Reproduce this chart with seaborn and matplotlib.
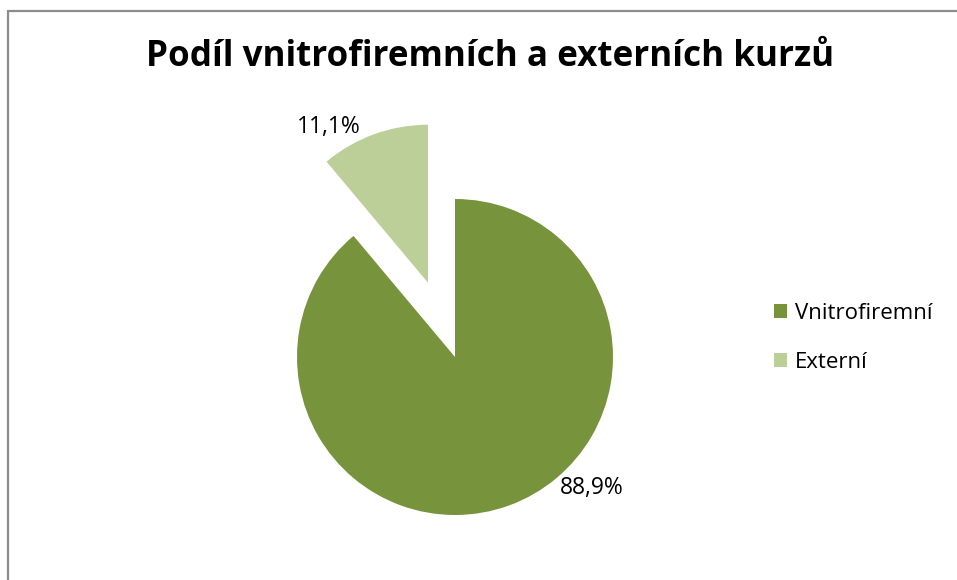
import matplotlib
matplotlib.use("Agg")
import matplotlib.pyplot as plt
import seaborn as sns
from matplotlib.lines import Line2D
from matplotlib.patches import Patch

sns.set_theme(style="white")
plt.rcParams['font.family'] = ['Open Sans', 'DejaVu Sans']
plt.rcParams['text.color'] = 'black'

# Data
categories = ["Vnitrofiremní", "Externí"]
values = [88.9, 11.1]
value_labels = ["88,9%", "11,1%"]
colors = ["#77933C", "#BCCF98"]
explode = [0.0, 0.5]

W, H = 957, 580
fig = plt.figure(figsize=(W / 100, H / 100), dpi=100)
fig.patch.set_facecolor("white")

# axes placed so that 1 data unit = 158 px, pie centre at (455, 357) px
R = 158.0
cx, cy = 455.0, 357.0
left_px, right_px = cx - 2 * R, cx + 2 * R
top_px, bot_px = 100.0, 560.0
ax = fig.add_axes([left_px / W, (H - bot_px) / H, (right_px - left_px) / W, (bot_px - top_px) / H])

wedges, _ = ax.pie(values, colors=colors, startangle=90, counterclock=False,
                   explode=explode, radius=1.0,
                   wedgeprops=dict(linewidth=0))
ax.set_xlim(-2, 2)
ax.set_ylim(-(bot_px - cy) / R, (cy - top_px) / R)
ax.set_aspect("equal")
ax.axis("off")

# data labels
ax.text(0.865, -0.83, value_labels[0], ha="center", va="center", fontsize=16.5, color="black")
ax.text(-0.80, 1.455, value_labels[1], ha="center", va="center", fontsize=16.5, color="black")

# title
fig.text(490 / W, 1 - 57 / H, "Podíl vnitrofiremních a externích kurzů",
         ha="center", va="center", fontsize=25.2, fontweight="bold", color="black")

# legend
handles = [Patch(facecolor=c, edgecolor="none") for c in colors]
leg = fig.legend(handles, categories, loc="center left",
                 bbox_to_anchor=(763 / W, 1 - 338 / H), frameon=False,
                 fontsize=16, handlelength=0.6, handleheight=0.6,
                 handletextpad=0.35, labelspacing=1.25, borderpad=0,
                 labelcolor="black")

# outer border (left and top only visible)
fig.add_artist(Line2D([8 / W, 8 / W], [0, 1 - 11 / H], transform=fig.transFigure,
                      color="#8C8C8C", linewidth=1.6))
fig.add_artist(Line2D([8 / W, 1], [1 - 11 / H, 1 - 11 / H], transform=fig.transFigure,
                      color="#8C8C8C", linewidth=1.6))

fig.savefig("out.png", dpi=100, facecolor="white")
